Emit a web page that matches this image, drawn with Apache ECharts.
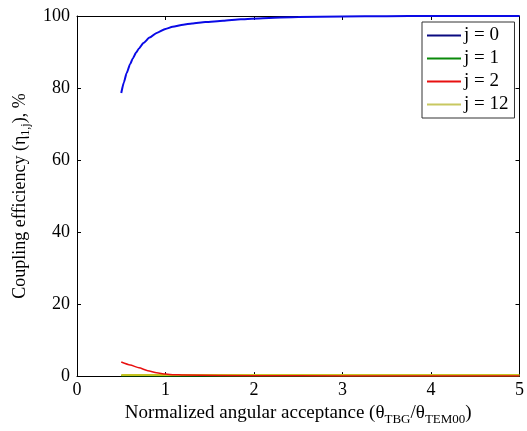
<!DOCTYPE html>
<html><head><meta charset="utf-8">
<script src="https://cdn.jsdelivr.net/npm/echarts@6/dist/echarts.min.js"></script>
<style>html,body{margin:0;padding:0;background:#fff}#c{width:527px;height:431px}</style>
</head><body><div id="c"></div>
<script>
var seriesNames = ['j = 0', 'j = 1', 'j = 2', 'j = 12'];
var xJ0 = [0.5, 0.53, 0.56, 0.6, 0.63, 0.67, 0.7, 0.75, 0.82, 0.9, 1.0, 1.08, 1.2, 1.3, 1.45, 1.65, 1.85, 2.1, 2.5, 3.0, 3.5, 4.0, 5.0];
var yJ0 = [78.6, 81.6, 84.1, 86.6, 88.2, 89.9, 91.0, 92.5, 94.0, 95.3, 96.4, 97.0, 97.6, 97.9, 98.3, 98.7, 99.1, 99.4, 99.7, 99.85, 99.95, 100, 100];
var xJ1 = [0.5, 1.0, 2.0, 3.0, 4.0, 5.0];
var yJ1 = [0.1, 0.05, 0.02, 0.01, 0.01, 0.01];
var xJ2 = [0.5, 0.6, 0.7, 0.8, 0.9, 1.0, 1.1, 1.2, 2.0, 3.0, 4.0, 5.0];
var yJ2 = [3.9, 3.1, 2.3, 1.5, 0.9, 0.55, 0.4, 0.3, 0.1, 0.05, 0.02, 0.01];
var xJ12 = [0.5, 1.0, 2.0, 3.0, 4.0, 5.0];
var yJ12 = [0.3, 0.3, 0.3, 0.3, 0.3, 0.3];
var colors = ['#0a0ae6', '#0a8a0a', '#e81010', '#c4c420'];
var legendColors = ['#0a0a80', '#0a8a0a', '#e81010', '#c8c860'];
var xTicks = [0, 1, 2, 3, 4, 5];
var yTicks = [0, 20, 40, 60, 80, 100];

function pairs(xs, ys){ return xs.map(function(x,i){ return [x, ys[i]]; }); }
var allData = [pairs(xJ0,yJ0), pairs(xJ1,yJ1), pairs(xJ2,yJ2), pairs(xJ12,yJ12)];
var widths = [2, 1.5, 1.5, 2];
var order = [1, 3, 2, 0];

var font = '"Liberation Serif", "Times New Roman", serif';
var chart = echarts.init(document.getElementById('c'));
var axisBase = {
  axisLine: {show: true, onZero: false, lineStyle: {color: '#000', width: 1}},
  axisTick: {show: true, inside: true, length: 4, lineStyle: {color: '#000'}},
  splitLine: {show: false}
};
chart.setOption({
  animation: false,
  backgroundColor: '#fff',
  grid: {left: 77, right: 5, top: 16, bottom: 50, containLabel: false},
  legend: {
    orient: 'vertical', left: 422, top: 22, width: 96,
    backgroundColor: '#fff', borderColor: '#333', borderWidth: 1,
    padding: [4, 6, 4, 5], itemGap: 4, itemWidth: 34, itemHeight: 2, icon: 'rect',
    textStyle: {fontFamily: font, fontSize: 19, color: '#000', padding: [0,0,0,-2]},
    data: seriesNames.map(function(n, i){ return {name: n, itemStyle: {color: legendColors[i]}}; })
  },
  xAxis: [
    Object.assign({}, axisBase, {
      type: 'value', min: 0, max: 5, interval: 1, position: 'bottom',
      axisLabel: {fontFamily: font, fontSize: 18, color: '#000', margin: 5,
        formatter: function(v){ return xTicks.indexOf(v) >= 0 ? String(v) : ''; }},
      name: '{t|Normalized angular acceptance (θ}{s|TBG}{t|/θ}{s|TEM00}{t|)}',
      nameLocation: 'middle', nameGap: 22,
      nameTextStyle: {rich: {
        t: {fontFamily: font, fontSize: 19, color: '#000'},
        s: {fontFamily: font, fontSize: 13, color: '#000', verticalAlign: 'bottom', padding: [12,0,0,0]}
      }}
    }),
    Object.assign({}, axisBase, {
      type: 'value', min: 0, max: 5, interval: 1, position: 'top', axisLabel: {show: false}
    })
  ],
  yAxis: [
    Object.assign({}, axisBase, {
      type: 'value', min: 0, max: 100, interval: 20, position: 'left',
      axisLabel: {fontFamily: font, fontSize: 18, color: '#000', margin: 7,
        formatter: function(v){ return yTicks.indexOf(v) >= 0 ? String(v) : ''; }},
      name: '{t|Coupling efficiency (η}{s|1,j}{t|), %}',
      nameLocation: 'middle', nameGap: 45,
      nameTextStyle: {rich: {
        t: {fontFamily: font, fontSize: 18, color: '#000'},
        s: {fontFamily: font, fontSize: 12, color: '#000', verticalAlign: 'bottom', padding: [11,0,0,0]}
      }}
    }),
    Object.assign({}, axisBase, {
      type: 'value', min: 0, max: 100, interval: 20, position: 'right', axisLabel: {show: false}
    })
  ],
  series: order.map(function(i){
    return {
      name: seriesNames[i], type: 'line', data: allData[i], showSymbol: false,
      smooth: 0.2, smoothMonotone: 'x',
      lineStyle: {color: colors[i], width: widths[i]}, itemStyle: {color: colors[i]}, z: 2 + (i===0?2:0)
    };
  })
});
</script></body></html>
